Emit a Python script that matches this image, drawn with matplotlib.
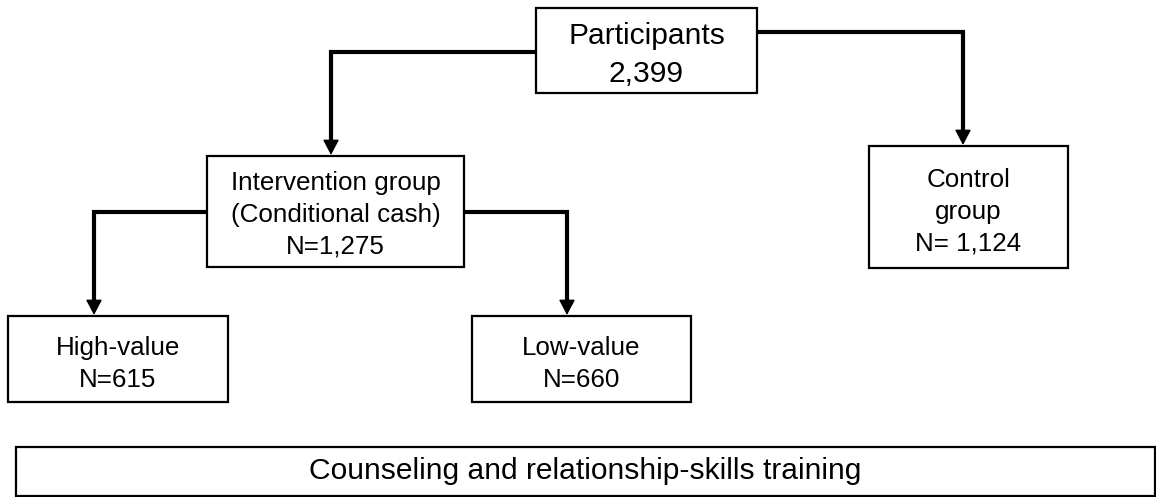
import matplotlib
matplotlib.use("Agg")
import matplotlib.pyplot as plt
from matplotlib.patches import Rectangle

# Flowchart content
box_names = ["Participants", "Intervention group\n(Conditional cash)", "Control\ngroup",
             "High-value", "Low-value"]
box_counts = ["2,399", "N=1,275", "N= 1,124", "N=615", "N=660"]
footer_text = "Counseling and relationship-skills training"

# Layout in pixel units (x0, y0, x1, y1), y grows downward
box_extent = [(536, 8, 757, 93), (207, 156, 464, 267), (869, 146, 1068, 268),
              (8, 316, 228, 402), (472, 316, 691, 402)]
text_y = [55, 215, 212, 364, 364]
text_size = [21.6, 18.7, 18.7, 18.7, 18.7]
footer_extent = (16, 447, 1155, 496)

# connectors: (start box, side, y of horizontal run, x of drop, target box)
links = [(0, "left", 52, 331, 1), (0, "right", 32, 963, 2),
         (1, "left", 212, 94, 3), (1, "right", 212, 567, 4)]

plt.rcParams['font.family'] = ['Liberation Sans', 'DejaVu Sans']

W, H = 1156, 497
fig = plt.figure(figsize=(W / 100, H / 100), dpi=100)
ax = fig.add_axes([0, 0, 1, 1])
ax.set_xlim(0, W)
ax.set_ylim(H, 0)
ax.axis('off')

box_lw = 1.6
link_lw = 3.0

for (x0, y0, x1, y1), name, cnt, ty, fs in zip(box_extent, box_names, box_counts, text_y, text_size):
    ax.add_patch(Rectangle((x0, y0), x1 - x0, y1 - y0, fill=False, ec='black', lw=box_lw,
                           joinstyle='miter', zorder=3))
    ax.text((x0 + x1) / 2, ty, name + "\n" + cnt, ha='center', va='center',
            fontsize=fs, linespacing=1.42, zorder=4)

x0, y0, x1, y1 = footer_extent
ax.add_patch(Rectangle((x0, y0), x1 - x0, y1 - y0, fill=False, ec='black', lw=box_lw,
                       joinstyle='miter', zorder=3))
ax.text((x0 + x1) / 2, (y0 + y1) / 2 - 0.5, footer_text, ha='center', va='center',
        fontsize=21.6, zorder=4)

for src, side, hy, dx, dst in links:
    sx0, sy0, sx1, sy1 = box_extent[src]
    start_x = sx0 if side == "left" else sx1
    top = box_extent[dst][1]
    ax.plot([start_x, dx, dx], [hy, hy, top - 14], color='black', lw=link_lw,
            solid_joinstyle='miter', solid_capstyle='butt', zorder=2)
    ax.annotate('', xy=(dx, top - 1), xytext=(dx, top - 18),
                arrowprops=dict(arrowstyle='-|>,head_length=0.95,head_width=0.5',
                                mutation_scale=10, lw=1.0, color='black',
                                shrinkA=0, shrinkB=0), zorder=2)

fig.savefig("out.png", dpi=100)
